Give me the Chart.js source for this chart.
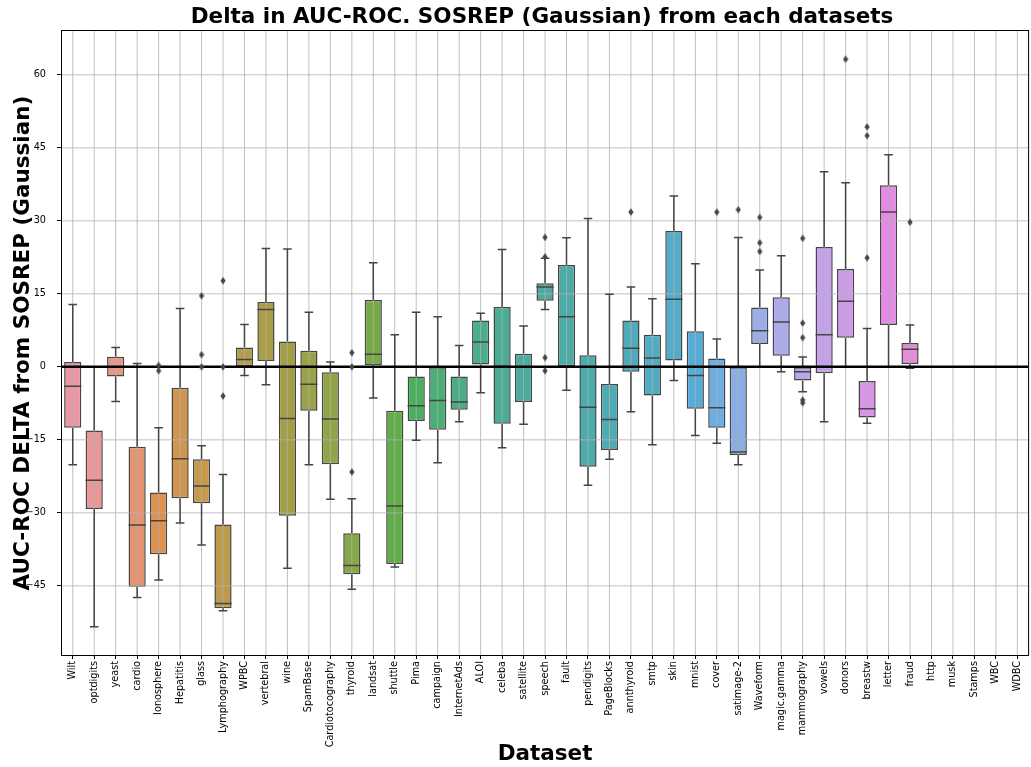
<!DOCTYPE html>
<html>
<head>
<meta charset="utf-8">
<title>Delta in AUC-ROC</title>
<script src="https://cdn.jsdelivr.net/npm/chart.js@4/dist/chart.umd.min.js"></script>
<style>
  html, body { margin: 0; padding: 0; background: #fff; }
  #wrap { width: 1031px; height: 767px; }
</style>
</head>
<body>
<div id="wrap"><canvas id="deltaChart"></canvas></div>
<script>
// Datasets along the x axis
const categories = ['Wilt', 'optdigits', 'yeast', 'cardio', 'Ionosphere', 'Hepatitis', 'glass',
  'Lymphography', 'WPBC', 'vertebral', 'wine', 'SpamBase', 'Cardiotocography', 'thyroid', 'landsat',
  'shuttle', 'Pima', 'campaign', 'InternetAds', 'ALOI', 'celeba', 'satellite', 'speech', 'fault',
  'pendigits', 'PageBlocks', 'annthyroid', 'smtp', 'skin', 'mnist', 'cover', 'satimage-2', 'Waveform',
  'magic.gamma', 'mammography', 'vowels', 'donors', 'breastw', 'letter', 'fraud', 'http', 'musk',
  'Stamps', 'WBC', 'WDBC'];

// Box statistics per dataset (null = no runs)
const whiskerLow = [-20.1, -53.4, -7.1, -47.4, -43.8, -32.1, -36.6, -50.1, -1.8, -3.7, -41.4, -20.1,
  -27.2, -45.7, -6.4, -41.1, -15.1, -19.7, -11.3, -5.3, -16.6, -11.8, 11.8, -4.8, -24.3, -19.0, -9.2,
  -16.0, -2.8, -14.1, -15.7, -20.1, 0.0, -1.0, -5.1, -11.3, 0.0, -11.6, 0.0, -0.3,
  null, null, null, null, null];
const q1 = [-12.5, -29.2, -2.0, -45.2, -38.5, -27.0, -28.0, -49.6, 0.0, 1.2, -30.6, -9.0,
  -20.0, -42.6, 0.4, -40.5, -11.1, -12.9, -8.8, 0.5, -11.7, -7.2, 13.6, 0.1, -20.5, -17.1, -1.0,
  -5.9, 1.3, -8.6, -12.5, -18.1, 4.7, 2.3, -2.8, -1.3, 6.0, -10.4, 8.6, 0.6,
  null, null, null, null, null];
const medians = [-4.0, -23.3, 0.0, -32.5, -31.6, -18.9, -24.5, -48.6, 1.5, 11.8, -10.6, -3.6,
  -10.7, -40.8, 2.6, -28.6, -8.0, -6.9, -7.2, 5.1, 0.1, 0.0, 16.4, 10.3, -8.3, -10.8, 3.8,
  1.8, 13.9, -1.8, -8.4, -17.5, 7.4, 9.2, -1.0, 6.6, 13.5, -8.6, 31.8, 3.6,
  null, null, null, null, null];
const q3 = [1.0, -13.1, 2.1, -16.4, -25.8, -4.3, -19.0, -32.4, 4.0, 13.3, 5.2, 3.3,
  -1.1, -34.2, 13.8, -9.0, -2.0, 0.0, -2.0, 9.5, 12.3, 2.7, 17.2, 20.9, 2.4, -3.5, 9.5,
  6.6, 27.9, 7.3, 1.7, 0.0, 12.2, 14.3, 0.0, 24.6, 20.1, -2.9, 37.3, 4.9,
  null, null, null, null, null];
const whiskerHigh = [12.8, 0.0, 4.0, 0.7, -12.5, 12.0, -16.2, -22.1, 8.7, 24.3, 24.2, 11.2,
  1.0, -27.1, 21.4, 6.6, 11.2, 10.3, 4.4, 11.0, 24.1, 8.4, 22.3, 26.5, 30.5, 14.9, 16.4,
  14.0, 35.1, 21.2, 5.7, 26.6, 19.9, 22.8, 2.0, 40.1, 37.8, 7.9, 43.6, 8.6,
  null, null, null, null, null];
const outliers = [[], [], [], [], [0.3, -0.8], [], [14.6, 2.5, 0.0], [17.7, 0.0, -6.0], [], [],
  [], [], [], [2.9, 0.0, -21.6], [], [], [], [], [], [], [], [], [26.6, 22.6, 1.9, -0.8], [],
  [], [], [31.8], [], [], [], [31.8], [32.3], [30.7, 25.5, 23.7], [], [26.4, 9.0, 6.0, -6.8, -7.4],
  [], [63.2], [49.3, 47.5, 22.4], [], [29.7], [], [], [], [], []];

const yTicks = [-45, -30, -15, 0, 15, 30, 45, 60];
const yMin = -59.2;
const yMax = 69.0;

const FONT = "'DejaVu Sans', 'Liberation Sans', sans-serif";

// --- husl palette (seaborn style), then desaturated for the boxes ---
const M = [[3.2406, -1.5372, -0.4986], [-0.9689, 1.8758, 0.0415], [0.0557, -0.2040, 1.0570]];

function maxChroma(L, H) {
  const hrad = H / 180 * Math.PI;
  const sinH = Math.sin(hrad), cosH = Math.cos(hrad);
  const sub1 = Math.pow(L + 16, 3) / 1560896;
  const sub2 = sub1 > 0.008856 ? sub1 : L / 903.3;
  let result = Infinity;
  M.forEach(([m1, m2, m3]) => {
    const top = (0.99915 * m1 + 1.05122 * m2 + 1.14460 * m3) * sub2;
    const rbottom = 0.86330 * m3 - 0.17266 * m2;
    const lbottom = 0.12949 * m3 - 0.38848 * m1;
    const bottom = (rbottom * sinH + lbottom * cosH) * sub2;
    [0, 1].forEach(t => {
      const C = L * (top - 1.05122 * t) / (bottom + 0.17266 * sinH * t);
      if (C > 0 && C < result) result = C;
    });
  });
  return result;
}

function huslToRgb(H, S, L) {
  const C = maxChroma(L, H) / 100 * S;
  const hrad = H / 180 * Math.PI;
  const U = Math.cos(hrad) * C, V = Math.sin(hrad) * C;
  const t = (L + 16) / 116;
  const varY = Math.pow(t, 3) > 0.008856 ? Math.pow(t, 3) : (116 * t - 16) / 903.3;
  const varU = U / (13 * L) + 0.19784;
  const varV = V / (13 * L) + 0.46834;
  const Y = varY;
  const X = -(9 * Y * varU) / ((varU - 4) * varV - varU * varV);
  const Z = (9 * Y - 15 * varV * Y - varV * X) / (3 * varV);
  return M.map(r => {
    const c = r[0] * X + r[1] * Y + r[2] * Z;
    const s = c <= 0.0031308 ? 12.92 * c : 1.055 * Math.pow(c, 1 / 2.4) - 0.055;
    return Math.min(1, Math.max(0, s));
  });
}

function rgbToHls([r, g, b]) {
  const maxc = Math.max(r, g, b), minc = Math.min(r, g, b);
  const l = (maxc + minc) / 2;
  if (maxc === minc) return [0, l, 0];
  const s = l <= 0.5 ? (maxc - minc) / (maxc + minc) : (maxc - minc) / (2 - maxc - minc);
  const rc = (maxc - r) / (maxc - minc), gc = (maxc - g) / (maxc - minc), bc = (maxc - b) / (maxc - minc);
  let h = r === maxc ? bc - gc : g === maxc ? 2 + rc - bc : 4 + gc - rc;
  h = ((h / 6) % 1 + 1) % 1;
  return [h, l, s];
}

function hlsToRgb(h, l, s) {
  if (s === 0) return [l, l, l];
  const m2 = l <= 0.5 ? l * (1 + s) : l + s - l * s;
  const m1 = 2 * l - m2;
  const v = hue => {
    hue = ((hue % 1) + 1) % 1;
    if (hue < 1 / 6) return m1 + (m2 - m1) * hue * 6;
    if (hue < 0.5) return m2;
    if (hue < 2 / 3) return m1 + (m2 - m1) * (2 / 3 - hue) * 6;
    return m1;
  };
  return [v(h + 1 / 3), v(h), v(h - 1 / 3)];
}

const toCss = c => 'rgb(' + c.map(v => Math.round(v * 255)).join(',') + ')';

const boxRgb = categories.map((c, i) => {
  const hue = ((i / categories.length + 0.01) % 1) * 359;
  const [h, l, s] = rgbToHls(huslToRgb(hue, 0.9 * 99, 0.7 * 99));
  return hlsToRgb(h, l, s * 0.75);
});
const boxColors = boxRgb.map(toCss);
const lum = Math.min(...boxRgb.map(c => rgbToHls(c)[1])) * 0.6;
const lineGray = toCss([lum, lum, lum]);

// thin diamond used for the fliers
const flier = document.createElement('canvas');
flier.width = 6;
flier.height = 8;
(function () {
  const g = flier.getContext('2d');
  g.fillStyle = lineGray;
  g.beginPath();
  g.moveTo(3, 0.3);
  g.lineTo(5.6, 4);
  g.lineTo(3, 7.7);
  g.lineTo(0.4, 4);
  g.closePath();
  g.fill();
})();

const boxData = categories.map((c, i) => (q1[i] === null ? null : [q1[i], q3[i]]));
const flierPoints = [];
outliers.forEach((list, i) => list.forEach(v => flierPoints.push({ x: categories[i], y: v })));

// grid above the box patches, then whiskers, medians and the zero line
const boxParts = {
  id: 'boxParts',
  afterDatasetDraw(chart, args) {
    if (args.index !== 0) return;
    const { ctx, chartArea: a, scales: { x, y } } = chart;
    ctx.save();
    ctx.strokeStyle = '#b0b0b0';
    ctx.lineWidth = 0.8;
    ctx.beginPath();
    categories.forEach((c, i) => {
      const px = x.getPixelForValue(i);
      ctx.moveTo(px, a.top);
      ctx.lineTo(px, a.bottom);
    });
    yTicks.forEach(v => {
      const py = y.getPixelForValue(v);
      ctx.moveTo(a.left, py);
      ctx.lineTo(a.right, py);
    });
    ctx.stroke();

    ctx.strokeStyle = lineGray;
    ctx.lineWidth = 1.5;
    ctx.beginPath();
    args.meta.data.forEach((bar, i) => {
      if (medians[i] === null) return;
      const cx = x.getPixelForValue(i);
      const half = bar.width / 2;
      const capHalf = bar.width / 4;
      const yLo = y.getPixelForValue(whiskerLow[i]);
      const yHi = y.getPixelForValue(whiskerHigh[i]);
      const yQ1 = y.getPixelForValue(q1[i]);
      const yQ3 = y.getPixelForValue(q3[i]);
      const yMed = y.getPixelForValue(medians[i]);
      ctx.moveTo(cx, yQ1); ctx.lineTo(cx, yLo);
      ctx.moveTo(cx, yQ3); ctx.lineTo(cx, yHi);
      ctx.moveTo(cx - capHalf, yLo); ctx.lineTo(cx + capHalf, yLo);
      ctx.moveTo(cx - capHalf, yHi); ctx.lineTo(cx + capHalf, yHi);
      ctx.moveTo(cx - half, yMed); ctx.lineTo(cx + half, yMed);
    });
    ctx.stroke();

    const y0 = y.getPixelForValue(0);
    ctx.strokeStyle = '#000';
    ctx.lineWidth = 2.5;
    ctx.beginPath();
    ctx.moveTo(a.left, y0);
    ctx.lineTo(a.right, y0);
    ctx.stroke();
    ctx.restore();
  },
  afterDraw(chart) {
    const { ctx, chartArea: a } = chart;
    ctx.save();
    ctx.strokeStyle = '#000';
    ctx.lineWidth = 1;
    ctx.strokeRect(a.left - 0.5, a.top - 0.5, a.right - a.left + 1, a.bottom - a.top + 1);
    ctx.fillStyle = '#000';
    ctx.font = 'bold 21.5px ' + FONT;
    ctx.textAlign = 'center';
    ctx.textBaseline = 'middle';
    ctx.fillText('Delta in AUC-ROC. SOSREP (Gaussian) from each datasets', (a.left + a.right) / 2 - 3, 17);
    ctx.restore();
  }
};

new Chart(document.getElementById('deltaChart'), {
  type: 'bar',
  data: {
    labels: categories,
    datasets: [
      {
        data: boxData,
        backgroundColor: boxColors,
        borderColor: lineGray,
        borderWidth: 1.5,
        borderSkipped: false,
        barPercentage: 0.8,
        categoryPercentage: 1.0,
        order: 2
      },
      {
        type: 'line',
        data: flierPoints,
        showLine: false,
        pointStyle: flier,
        pointRadius: 4,
        order: 1
      }
    ]
  },
  options: {
    responsive: true,
    maintainAspectRatio: false,
    animation: false,
    layout: { autoPadding: false, padding: { top: 31, right: -1, bottom: 0, left: 0 } },
    plugins: {
      legend: { display: false },
      title: { display: false },
      tooltip: { enabled: false }
    },
    scales: {
      x: {
        type: 'category',
        offset: true,
        border: { display: false },
        grid: { offset: false, drawOnChartArea: false, drawTicks: true, tickLength: 4, tickColor: '#000' },
        ticks: {
          autoSkip: false,
          minRotation: 90,
          maxRotation: 90,
          padding: 2,
          color: '#000',
          font: { family: FONT, size: 9.7 }
        },
        title: {
          display: true,
          text: 'Dataset',
          color: '#000',
          font: { family: FONT, size: 21.5, weight: 'bold' },
          padding: { top: 0, bottom: 0 }
        },
        afterFit(scale) { scale.height = 112; }
      },
      y: {
        min: yMin,
        max: yMax,
        border: { display: false },
        grid: { drawOnChartArea: false, drawTicks: true, tickLength: 5, tickColor: '#000' },
        afterBuildTicks(scale) { scale.ticks = yTicks.map(v => ({ value: v })); },
        ticks: {
          padding: 11,
          color: '#000',
          font: { family: FONT, size: 9.7 },
          callback: v => String(v).replace('-', '\u2212')
        },
        title: {
          display: true,
          text: 'AUC-ROC DELTA from SOSREP (Gaussian)',
          color: '#000',
          font: { family: FONT, size: 21.5, weight: 'bold' },
          padding: { top: 11, bottom: 0 }
        },
        afterFit(scale) { scale.width = 62; }
      }
    }
  },
  plugins: [boxParts]
});
</script>
</body>
</html>
